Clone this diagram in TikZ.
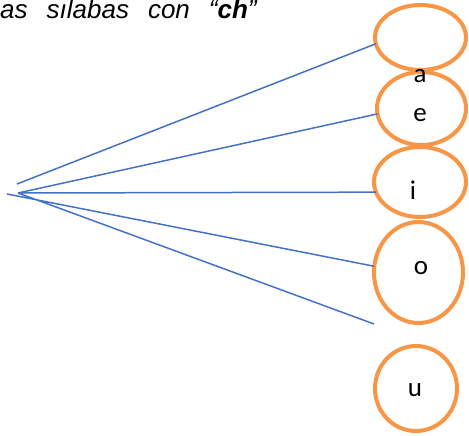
\documentclass[tikz,border=0pt]{standalone}
\usepackage{fontspec}
\setmainfont{Carlito}
\newfontfamily\headfont{Liberation Sans}
\usepackage{tikz}
\usetikzlibrary{shapes.geometric}
\definecolor{vowelorange}{RGB}{247,150,70}
\definecolor{branchblue}{RGB}{68,114,196}

\begin{document}
\begin{tikzpicture}[x=1pt,y=-1pt,
  vowel/.style={ellipse,draw=vowelorange,line width=4pt,inner sep=0pt,outer sep=0pt},
  letter/.style={inner sep=0pt,font=\fontsize{27}{32}\selectfont},
  branch/.style={draw=branchblue,line width=1.5pt}]
\useasboundingbox (0,0) rectangle (469,436);
\node[anchor=base west,inner sep=0pt,font=\headfont\itshape\fontsize{26}{30}\selectfont] (head) at (0,19)
  {\spaceskip=19pt as sılabas con “\textbf{ch}”};
% the lines
\coordinate (top) at (17,184);
\coordinate (fan) at (18,193);
\coordinate (tail) at (7,194);
\coordinate (loose) at (374,324);
% the vowels
\node[vowel,minimum width=91pt,minimum height=65pt] (ea) at (420.5,37.5) {};
\node[vowel,minimum width=89pt,minimum height=73pt] (eb) at (421.5,108.5) {};
\node[vowel,minimum width=92pt,minimum height=70pt] (ec) at (420,182) {};
\node[vowel,minimum width=89pt,minimum height=101pt] (ed) at (418.5,272.5) {};
\node[vowel,minimum width=82pt,minimum height=85pt] (ee) at (416,388.5) {};
\node[letter] (la) at (420,76) {a};
\node[letter] (le) at (420,115) {e};
\node[letter] (li) at (413,190) {i};
\node[letter] (lo) at (421,268) {o};
\node[letter] (lu) at (415,390) {u};
\draw[branch]
(top) -- (ea.188)
(fan) -- (eb.187)
(fan) -- (ec.193)
(tail) -- (ed.172)
(fan) -- (loose);
\end{tikzpicture}
\end{document}
